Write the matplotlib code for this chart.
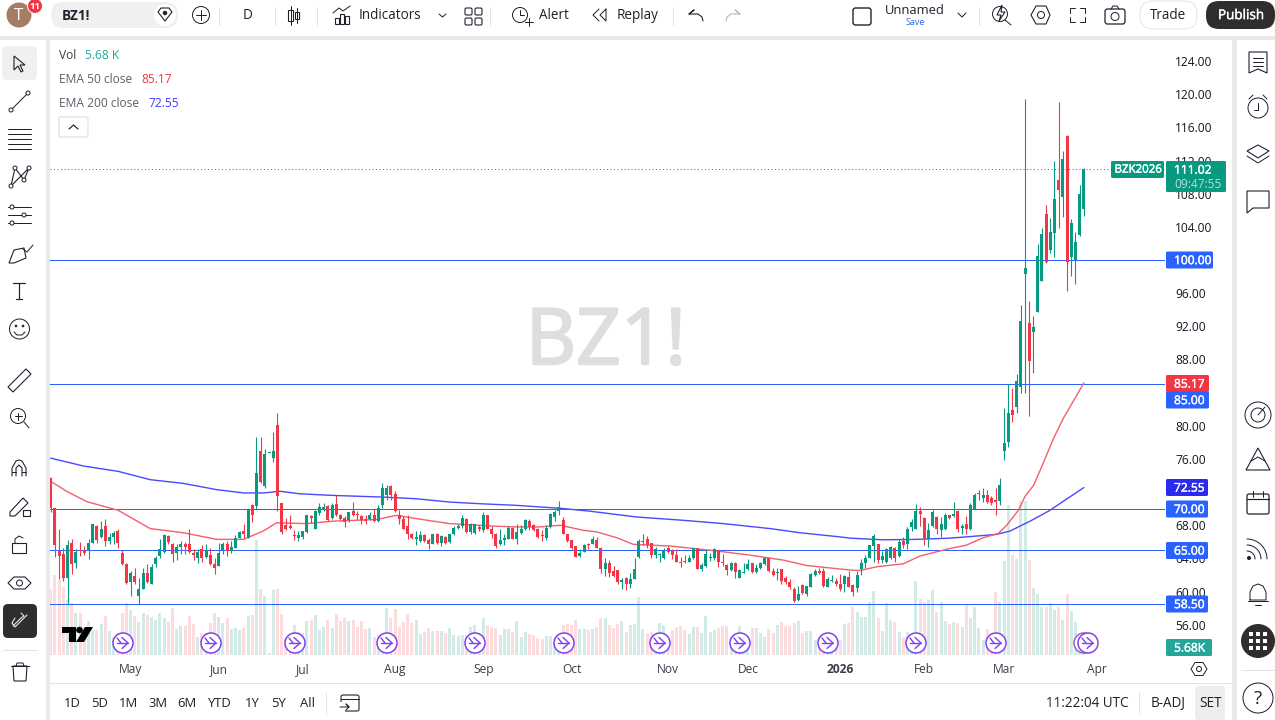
#!/usr/bin/env python3
"""Daily Brent chart (BZ1!) with EMA 50/200, volume and the terminal chrome around it."""

import matplotlib
matplotlib.use("Agg")
import matplotlib.patheffects as pe
import matplotlib.pyplot as plt
import numpy as np
from matplotlib.patches import Circle, FancyBboxPatch, Polygon, Rectangle

plt.rcParams["font.family"] = ["Open Sans", "DejaVu Sans"]

# ---------------------------------------------------------------------------
# Values
# ---------------------------------------------------------------------------
opens = [
    73.7, 70.1, 64.9, 64.5, 61.6, 65.9, 63.5, 65.0, 65.0, 64.9,
    65.9, 67.9, 66.6, 67.9, 66.1, 66.6, 67.3, 64.6, 63.3, 61.1,
    61.9, 59.5, 60.3, 62.2, 60.9, 63.3, 64.3, 64.8, 66.7, 65.8,
    64.6, 65.4, 65.7, 65.7, 64.7, 64.0, 65.1, 64.2, 64.4, 63.3,
    63.1, 65.0, 65.7, 64.9, 65.2, 66.5, 67.3, 66.5, 70.4, 70.3,
    77.0, 72.7, 76.7, 76.1, 80.1, 70.7, 68.0, 67.9, 66.8, 66.5,
    66.6, 67.2, 69.1, 67.6, 69.5, 69.9, 70.3, 68.9, 70.6, 69.2,
    68.9, 68.6, 69.7, 69.3, 69.1, 68.8, 68.7, 69.3, 68.5, 70.4,
    71.7, 72.7, 71.8, 69.2, 68.8, 67.9, 67.0, 66.3, 66.1, 66.8,
    66.2, 65.8, 67.0, 65.9, 66.6, 66.0, 66.9, 67.7, 67.9, 68.8,
    67.2, 67.1, 67.8, 67.4, 69.2, 67.5, 67.0, 65.8, 66.2, 66.4,
    67.7, 66.3, 67.1, 67.5, 68.5, 68.0, 67.6, 66.8, 66.5, 67.8,
    69.0, 69.7, 68.6, 66.9, 66.2, 65.5, 64.3, 64.8, 65.7, 65.8,
    66.2, 65.2, 62.7, 63.5, 62.5, 62.6, 61.2, 61.6, 60.9, 61.5,
    64.2, 66.0, 66.3, 65.9, 64.4, 64.4, 64.1, 65.2, 65.0, 64.4,
    63.6, 63.7, 63.6, 64.0, 65.3, 62.7, 63.1, 64.0, 64.0, 65.0,
    63.6, 63.2, 62.6, 63.5, 61.7, 62.3, 62.7, 63.4, 62.4, 62.8,
    63.3, 64.0, 62.5, 62.2, 62.7, 61.7, 61.2, 60.3, 59.0, 60.8,
    59.7, 60.6, 62.0, 62.5, 62.5, 60.5, 61.3, 61.3, 60.9, 60.9,
    61.8, 60.8, 60.4, 62.7, 63.4, 64.1, 65.5, 65.8, 63.8, 63.6,
    64.0, 65.3, 64.3, 66.1, 65.7, 67.8, 67.5, 69.7, 68.9, 66.3,
    67.9, 69.0, 67.4, 67.5, 69.2, 69.1, 69.7, 67.7, 68.1, 67.5,
    70.0, 71.8, 71.3, 71.6, 71.3, 71.0, 70.9, 77.0, 78.05, 81.9,
    82.3, 84.7, 98.3, 92.4, 91.3, 93.7, 97.5, 105.5, 101.2, 103.3,
    109.7, 107.6, 114.9, 100.4, 100.0, 103.0, 106.1,
]
closes = [
    70.1, 65.6, 64.3, 61.7, 65.6, 63.3, 64.8, 64.85, 64.6, 65.9,
    68.1, 66.2, 67.5, 66.1, 66.6, 67.1, 65.9, 63.3, 61.0, 62.2,
    61.2, 60.3, 62.3, 61.1, 63.0, 64.0, 65.1, 66.8, 66.0, 64.5,
    65.4, 65.7, 65.4, 64.8, 64.4, 64.8, 64.1, 65.0, 63.3, 62.9,
    64.7, 65.7, 64.9, 65.4, 66.5, 67.2, 66.9, 70.0, 69.3, 74.3,
    73.2, 76.6, 76.8, 77.0, 71.5, 67.2, 67.6, 67.7, 66.7, 66.8,
    67.3, 69.2, 68.9, 69.7, 70.2, 70.2, 68.6, 70.4, 69.2, 68.8,
    68.4, 69.6, 69.2, 69.2, 68.6, 68.5, 69.3, 68.5, 70.1, 72.5,
    72.5, 71.7, 69.7, 68.7, 67.6, 66.9, 66.5, 66.6, 66.8, 66.1,
    65.7, 66.9, 65.9, 66.7, 65.9, 66.9, 67.7, 67.9, 68.9, 67.2,
    68.2, 68.1, 67.6, 69.2, 67.6, 67.0, 65.5, 66.2, 66.5, 67.7,
    66.3, 67.2, 67.5, 68.6, 67.8, 67.4, 66.6, 66.7, 67.7, 69.4,
    69.6, 70.2, 67.0, 66.1, 65.3, 64.2, 64.6, 65.6, 65.65, 66.4,
    65.2, 62.7, 63.4, 62.3, 61.9, 61.1, 61.4, 60.9, 61.5, 62.7,
    66.1, 66.05, 65.6, 64.4, 65.1, 64.5, 64.9, 64.8, 64.4, 63.6,
    63.5, 63.6, 64.1, 65.2, 62.7, 63.2, 64.5, 64.2, 65.1, 63.6,
    63.4, 62.6, 63.5, 62.4, 62.6, 62.4, 63.3, 62.4, 62.8, 63.4,
    64.0, 62.5, 62.0, 62.3, 61.3, 61.1, 60.5, 58.9, 59.7, 59.8,
    60.7, 62.1, 62.5, 62.2, 60.7, 61.5, 61.4, 60.9, 60.3, 61.9,
    60.6, 59.9, 62.0, 63.4, 64.0, 65.6, 66.7, 63.8, 64.3, 65.1,
    65.4, 64.0, 66.0, 65.6, 67.6, 68.4, 69.7, 69.4, 66.3, 67.4,
    69.6, 67.5, 68.1, 69.2, 68.9, 69.4, 67.5, 67.9, 67.5, 70.4,
    71.7, 71.85, 71.6, 70.8, 70.7, 70.85, 72.9, 77.9, 81.5, 81.3,
    85.4, 92.7, 99.0, 87.8, 91.9, 100.5, 103.1, 99.8, 103.4, 107.4,
    108.5, 112.2, 99.8, 104.5, 102.2, 108.0, 111.02,
]
highs = [
    73.8, 70.1, 67.5, 65.3, 66.2, 66.3, 65.1, 66.0, 65.5, 66.3,
    68.2, 68.0, 68.5, 68.7, 67.1, 67.3, 67.6, 65.0, 63.5, 62.5,
    62.8, 61.7, 62.9, 63.3, 63.3, 64.3, 66.4, 66.9, 66.8, 65.9,
    65.7, 66.1, 66.0, 67.6, 65.1, 65.1, 65.6, 65.7, 65.3, 64.1,
    65.9, 66.0, 66.1, 66.1, 66.8, 67.3, 68.1, 70.0, 70.6, 78.7,
    78.7, 77.2, 76.85, 79.2, 81.5, 70.7, 68.9, 69.2, 67.4, 67.3,
    67.3, 69.3, 69.3, 69.9, 70.7, 70.7, 70.5, 70.7, 71.6, 69.4,
    69.1, 69.6, 70.8, 69.7, 69.2, 69.2, 69.6, 70.0, 70.5, 73.1,
    72.9, 72.9, 72.1, 69.9, 69.1, 69.2, 67.1, 67.3, 67.3, 67.0,
    66.5, 67.0, 67.1, 66.8, 66.7, 67.0, 67.9, 68.1, 69.2, 68.9,
    68.3, 68.2, 68.0, 69.6, 69.2, 67.9, 67.1, 67.6, 67.0, 67.9,
    67.8, 68.1, 68.0, 68.8, 68.7, 68.1, 67.7, 67.4, 68.0, 69.5,
    69.8, 70.9, 69.0, 66.9, 66.2, 65.5, 65.1, 65.8, 65.9, 66.7,
    66.6, 65.4, 64.0, 63.8, 63.1, 62.6, 61.7, 61.8, 62.2, 64.0,
    66.4, 66.9, 66.7, 65.9, 65.4, 64.7, 65.2, 65.5, 65.1, 65.1,
    64.2, 64.4, 64.4, 65.3, 65.3, 63.4, 65.0, 64.7, 65.2, 65.0,
    64.5, 63.3, 63.6, 63.6, 62.7, 63.5, 63.9, 63.5, 63.3, 63.6,
    64.1, 64.0, 62.9, 62.8, 62.7, 61.9, 61.5, 60.5, 60.7, 60.9,
    60.7, 62.3, 62.7, 62.8, 62.8, 61.8, 62.0, 61.6, 62.1, 62.0,
    62.5, 60.9, 62.5, 63.9, 64.4, 65.6, 66.9, 65.8, 64.9, 65.3,
    65.5, 65.4, 66.3, 66.6, 67.8, 68.8, 70.6, 70.2, 69.0, 68.3,
    69.8, 69.1, 69.0, 69.5, 69.3, 70.8, 69.8, 68.1, 69.1, 70.7,
    71.9, 72.3, 72.5, 72.3, 71.5, 72.5, 73.7, 82.2, 85.1, 84.5,
    86.3, 94.6, 119.4, 95.1, 93.3, 101.9, 103.9, 106.6, 105.1, 111.9,
    119.1, 113.1, 115.1, 105.0, 103.4, 109.1, 111.1,
]
lows = [
    69.6, 64.2, 61.5, 61.3, 58.5, 62.1, 62.9, 64.3, 64.4, 63.9,
    65.9, 65.9, 66.5, 65.5, 65.8, 65.8, 65.3, 63.2, 60.9, 59.5,
    60.9, 58.5, 60.3, 61.0, 60.9, 63.0, 64.1, 64.7, 65.8, 63.6,
    63.8, 64.5, 64.5, 64.7, 63.8, 63.5, 63.6, 64.0, 63.2, 62.1,
    63.1, 64.5, 64.3, 64.7, 65.2, 66.5, 66.5, 66.5, 68.4, 70.0,
    73.1, 72.5, 76.7, 75.6, 69.7, 66.9, 67.4, 67.5, 66.2, 66.1,
    66.4, 67.1, 68.3, 67.5, 69.3, 69.7, 68.5, 68.8, 69.1, 68.6,
    67.8, 68.4, 69.1, 68.6, 68.2, 68.2, 68.6, 68.4, 68.4, 70.1,
    71.0, 71.1, 69.6, 68.2, 67.5, 66.3, 66.3, 65.6, 66.0, 66.0,
    65.1, 65.7, 65.8, 65.5, 65.8, 65.9, 66.8, 67.5, 67.7, 67.1,
    67.0, 67.0, 67.3, 67.2, 67.5, 66.5, 65.2, 65.6, 65.6, 66.4,
    66.3, 65.8, 67.0, 67.4, 67.4, 67.3, 66.5, 66.1, 66.2, 67.7,
    68.5, 69.2, 66.9, 66.0, 65.1, 64.2, 64.2, 64.8, 65.1, 65.7,
    65.2, 62.2, 61.9, 61.8, 61.8, 60.9, 60.3, 60.2, 60.4, 61.5,
    64.1, 65.6, 65.3, 64.1, 64.0, 63.6, 63.9, 64.6, 63.9, 63.6,
    63.0, 63.4, 63.6, 63.9, 62.7, 62.5, 63.0, 63.7, 63.8, 63.0,
    63.1, 62.0, 62.5, 61.7, 61.6, 62.2, 62.6, 62.3, 62.3, 62.7,
    63.2, 62.4, 61.9, 61.4, 60.9, 60.9, 60.3, 58.8, 58.9, 59.7,
    59.5, 60.5, 61.9, 62.1, 60.6, 60.5, 61.1, 60.7, 60.1, 59.9,
    60.6, 59.5, 59.9, 62.0, 62.9, 64.1, 63.6, 63.4, 63.5, 63.4,
    63.9, 63.6, 64.2, 65.3, 65.1, 67.3, 67.5, 67.9, 65.6, 65.4,
    67.8, 67.0, 66.6, 67.4, 68.7, 69.0, 67.2, 67.0, 66.9, 67.4,
    70.0, 71.1, 70.8, 70.7, 70.5, 69.2, 70.5, 75.9, 77.4, 80.4,
    81.6, 83.9, 83.9, 81.2, 86.4, 93.7, 97.5, 99.6, 100.8, 100.4,
    103.8, 105.2, 96.3, 98.1, 97.1, 102.9, 105.3,
]
volumes_k = [
    46.9, 56.9, 53.3, 48.6, 39.0, 36.7, 29.6, 29.6, 20.1, 24.2,
    17.8, 17.8, 22.0, 27.7, 17.1, 13.0, 15.4, 29.6, 36.7, 32.0,
    27.7, 23.7, 29.6, 28.4, 27.3, 24.9, 29.6, 26.1, 23.7, 33.2,
    18.2, 20.6, 20.6, 27.7, 22.0, 13.0, 15.4, 15.4, 23.0, 29.6,
    26.8, 22.5, 26.1, 18.2, 19.0, 17.8, 19.0, 27.7, 28.4, 81.8,
    46.9, 42.2, 1.2, 46.2, 46.9, 29.2, 11.9, 14.2, 21.3, 16.6,
    15.4, 24.2, 24.9, 28.4, 17.8, 20.1, 24.9, 19.0, 29.2, 24.2,
    26.1, 24.4, 24.9, 20.1, 24.2, 18.2, 19.0, 12.6, 14.2, 14.2,
    33.7, 26.1, 32.7, 20.1, 23.7, 29.2, 22.5, 24.9, 14.9, 16.6,
    19.0, 17.1, 17.1, 17.1, 15.9, 19.0, 14.2, 13.5, 14.2, 14.2,
    19.7, 21.3, 15.4, 26.3, 21.3, 20.1, 19.0, 14.2, 18.5, 18.5,
    16.1, 24.2, 13.0, 16.1, 14.9, 14.2, 12.3, 11.4, 13.5, 13.5,
    9.5, 7.1, 21.3, 22.0, 21.3, 24.9, 18.5, 18.5, 17.8, 18.5,
    20.1, 26.3, 26.3, 21.3, 19.4, 21.8, 24.2, 16.1, 21.3, 22.0,
    41.2, 18.5, 15.4, 16.1, 10.7, 22.5, 21.3, 10.7, 17.8, 19.9,
    20.9, 17.8, 14.9, 19.9, 19.9, 15.4, 27.7, 16.4, 17.8, 19.0,
    20.6, 20.6, 13.0, 10.7, 20.6, 10.7, 13.0, 19.4, 19.4, 15.6,
    13.0, 18.5, 15.4, 21.3, 23.5, 20.6, 20.6, 22.5, 24.2, 15.4,
    16.8, 17.1, 10.7, 10.7, 10.7, 8.3, 8.3, 10.7, 10.7, 22.0,
    22.5, 34.1, 30.8, 27.0, 27.0, 37.9, 45.7, 26.5, 17.3, 36.7,
    24.9, 23.5, 16.6, 13.0, 16.6, 10.7, 52.6, 39.8, 37.9, 39.1,
    46.2, 30.6, 37.9, 24.4, 22.0, 23.5, 22.7, 20.1, 36.0, 26.5,
    34.4, 19.4, 10.7, 18.7, 15.4, 45.0, 37.9, 66.8, 106.7, 71.1,
    68.3, 109.5, 109.5, 67.5, 47.9, 43.4, 34.4, 34.4, 36.7, 32.0,
    34.4, 24.9, 43.4, 31.3, 23.7, 13.0, 5.68,
]

ema50_bar = [0, 3.8, 8.6, 16.1, 23.7, 31.6, 39.5, 45.9, 50.6, 53.8, 61, 67.3, 77.6, 82.4, 87.1, 95,
             105.4, 111, 116.5, 121.3, 126.8, 130, 134.8, 138.7, 147.5, 152.2, 158.6, 166.5, 174.4,
             180, 190.3, 192.7, 196.7, 203, 207, 214.1, 218, 222, 225.6, 227.6, 230.4, 232, 234,
             235.9, 238.7, 241.1, 243.5, 246]
ema50_val = [73.3, 72.1, 70.85, 69.8, 67.6, 67.1, 66.3, 66.3, 67.3, 68.3, 68.2, 68.5, 68.7, 69.2, 68.8, 68.2,
             67.9, 67.8, 67.8, 68.0, 67.4, 67.2, 66.5, 65.7, 65.5, 65.25, 64.9, 64.4, 63.8,
             63.15, 62.6, 62.55, 63.0, 63.35, 64.3, 65.2, 65.6, 66.5, 67.0, 68.0, 69.8, 71.5, 72.8,
             75.0, 78.4, 80.9, 83.0, 85.17]
ema200_bar = [0, 7.8, 16.1, 23.7, 31.6, 39.5, 45.9, 50.6, 54.6, 59.3, 67.3, 79.2, 87.1, 95,
              102.2, 111, 121.3, 128.4, 139.5, 150.6, 160.2, 171.3, 178.4, 187.9, 190.3, 198.2,
              206.2, 214.1, 218, 225.2, 228.4, 233.2, 237.9, 241.1, 246]
ema200_val = [76.1, 75.15, 74.5, 73.5, 73.05, 72.3, 71.9, 71.9, 72.1, 71.8, 71.6, 71.4, 71.2, 70.8,
              70.6, 70.4, 70.05, 69.7, 69.0, 68.6, 68.2, 67.6, 67.1, 66.6, 66.45, 66.25,
              66.3, 66.45, 66.6, 66.9, 67.3, 68.5, 69.8, 70.9, 72.55]

# 72 and 84 sit fully behind the side boxes in the picture
price_ticks = [56, 60, 64, 68, 76, 80, 88, 92, 96, 100, 104, 108, 112, 116, 120, 124]
month_bars = [19, 40, 60, 82, 103, 124, 147, 166, 188, 208, 227, 249]
month_labels = ["May", "Jun", "Jul", "Aug", "Sep", "Oct", "Nov", "Dec", "2026", "Feb", "Mar", "Apr"]
level_lines = [100, 85, 70, 65, 58.5]
last_price = 111.02

# pixel columns of the session markers along the bottom
session_marks_px = [123, 211, 295, 387, 475, 564, 660, 740, 828, 916, 996, 1088]

# side label boxes: y centre, right edge, fill, text
price_boxes = [
    (260, 1213, "#2962ff", "100.00"),
    (383.5, 1209, "#f23645", "85.17"),
    (400, 1209, "#2962ff", "85.00"),
    (487.5, 1208, "#2a2af0", "72.55"),
    (509, 1208, "#2962ff", "70.00"),
    (550.5, 1208, "#2962ff", "65.00"),
    (604, 1208, "#2962ff", "58.50"),
    (647.5, 1212, "#26a69a", "5.68K"),
]

UP = "#089981"
DOWN = "#f23645"
TEXT = "#131722"
W, H = 1275, 720


def px(size):
    return size * 0.72


fig = plt.figure(figsize=(W / 100, H / 100), dpi=100, facecolor="white")

# chart pane spans x 50-1165, y 40-655 in picture pixels
rect = [50 / W, 1 - 655 / H, (1165 - 50) / W, (655 - 40) / H]
bar_px = 4.2
first_px = 50.7
xlim = ((50 - first_px) / bar_px, (1165 - first_px) / bar_px)

vol_ax = fig.add_axes(rect, zorder=1)
ax = fig.add_axes(rect, zorder=2)
ax.patch.set_alpha(0)

x = np.arange(len(closes))
o, c, h, l = map(np.array, (opens, closes, highs, lows))
up = c >= o
colors = np.where(up, UP, DOWN)

vol_ax.bar(x, volumes_k, width=0.72, color=np.where(up, "#d2ebe7", "#fddcde"), linewidth=0)
vol_ax.set_xlim(xlim)
vol_ax.set_ylim(0, 615 * 0.71)
vol_ax.axis("off")

for level in level_lines:
    ax.axhline(level, color="#2962ff", lw=px(1.0), zorder=2)
ax.axhline(last_price, color=UP, lw=px(1), ls=(0, (1, 2.5)), zorder=2)

ax.plot(ema200_bar, ema200_val, color="#4a4aff", lw=px(1.4), zorder=3, solid_capstyle="round")
ax.plot(ema50_bar, ema50_val, color="#f4606c", lw=px(1.4), zorder=3, solid_capstyle="round")

wicks = ax.vlines(x, l, h, colors=colors, lw=px(1.1), zorder=4)
wicks.set_snap(True)
ax.bar(x, np.maximum(np.abs(c - o), 0.12), bottom=np.minimum(o, c), width=0.74, color=colors, linewidth=0, zorder=5)

ax.set_xlim(xlim)
ax.set_ylim(100 - (655 - 260) / 8.29, 100 + (260 - 40) / 8.29)
ax.yaxis.tick_right()
ax.set_yticks(price_ticks, [f"{t:.2f}" for t in price_ticks])
ax.set_xticks(month_bars, month_labels)
ax.tick_params(axis="y", length=0, pad=7.2, labelsize=px(12), labelcolor=TEXT)
ax.tick_params(axis="x", length=0, pad=5.8, labelsize=px(12), labelcolor="#3a3e4a")
ax.get_xticklabels()[month_labels.index("2026")].set_fontweight("bold")
for side in ax.spines.values():
    side.set_visible(False)

# ---------------------------------------------------------------------------
# Chrome, drawn in picture pixels on a full-figure overlay
# ---------------------------------------------------------------------------
ui = fig.add_axes([0, 0, 1, 1], zorder=5)
ui.set_xlim(0, W)
ui.set_ylim(H, 0)
ui.axis("off")
ui.patch.set_alpha(0)
INK = "#1e222d"


def box(x0, y0, x1, y1, fill, edge="none", lw=0, radius=0, z=1):
    if radius:
        patch = FancyBboxPatch((x0 + radius, y0 + radius), x1 - x0 - 2 * radius, y1 - y0 - 2 * radius,
                               boxstyle=f"round,pad={radius}", fc=fill, ec=edge, lw=lw, zorder=z)
    else:
        patch = Rectangle((x0, y0), x1 - x0, y1 - y0, fc=fill, ec=edge, lw=lw, zorder=z)
    ui.add_patch(patch)


def line(xs, ys, color=INK, lw=1.0, z=6):
    ui.plot(xs, ys, color=color, lw=px(lw), zorder=z, solid_capstyle="round", solid_joinstyle="round")


def ring(cx, cy, r, edge=INK, fill="none", lw=1.0, z=6):
    ui.add_patch(Circle((cx, cy), r, fc=fill, ec=edge, lw=px(lw), zorder=z))


def label(x0, y0, s, size=13, color=TEXT, ha="left", weight="normal", z=7, stroke=0):
    t = ui.text(x0, y0 + 0.6, s, fontsize=px(size), color=color, ha=ha, va="center", fontweight=weight, zorder=z)
    if stroke:
        t.set_path_effects([pe.withStroke(linewidth=stroke, foreground=color)])


# frame gutters
GUTTER = "#e9e9ea"
box(0, 36, W, 40, GUTTER)
box(46, 40, 50, 720, GUTTER)
box(1232, 40, 1237, 720, GUTTER)
box(50, 683, 1232, 684, "#e0e3eb")

# watermark
label(606, 343, "BZ1!", size=78, color="#dedede", ha="center", z=0.5, stroke=1.6)

# legend
label(59, 55, "Vol", 12, "#3a3e4a")
label(85, 55, "5.68 K", 12, "#26a69a")
label(59, 79, "EMA 50 close", 12, "#5d606b")
label(141, 79, "85.17", 12, DOWN)
label(59, 103, "EMA 200 close", 12, "#5d606b")
label(148, 103, "72.55", 12, "#3d3dff")
box(59, 117, 88, 137, "white", "#d6d8de", 0.7, radius=2)
line([69, 73.5, 78], [129, 125, 129], lw=1.2)

# price boxes
box(1111, 161, 1164, 178, UP, radius=1.5, z=3)
label(1138, 169.5, "BZK2026", 11.5, "white", ha="center", stroke=0.3)
box(1166, 161, 1226, 192, UP, radius=1.5, z=3)
label(1174, 169.5, "111.02", 12, "white", stroke=0.3)
label(1174, 184, "09:47:55", 12, "#b5e0d8")
for yc, right, fill, text in price_boxes:
    box(1166, yc - 8.5, right, yc + 8.5, fill, radius=1.5, z=3)
    label(1174, yc, text, 12, "white", stroke=0.3)

# session markers; the last one sits over a second, fainter ring
ring(1084, 643, 10, "#a35ab8", "white", 1.5, z=4)
for mx in session_marks_px:
    ring(mx, 643, 10, "#7e3ff2", "white", 1.5, z=4)
    line([mx - 6, mx + 5], [643, 643], "#7e3ff2", 1.4)
    line([mx - 1, mx + 5, mx - 1], [637.5, 643, 648.5], "#7e3ff2", 1.4)
    line([mx - 6, mx - 2], [638, 643], "#7e3ff2", 1.4)

# logo
ui.add_patch(Polygon([(62, 627), (76, 627), (76, 642), (69, 642), (69, 633), (62, 633)], fc="black", zorder=6))
ring(79.5, 630, 3, "black", "black", 0.5)
ui.add_patch(Polygon([(85, 627), (93, 627), (84, 642), (76, 642)], fc="black", zorder=6))

# top toolbar
ring(19, 15, 12.5, "none", "#a67c64")
label(19, 15, "T", 17, "white", ha="center")
ring(35, 6, 7.5, "white", "#f23645", 1)
label(35, 6, "11", 9.5, "white", ha="center", weight="bold")
box(51, 2, 178, 28, "#f0f0f0", radius=13)
label(62, 15, "BZ1!", 13.5, INK, weight="bold")
ring(165, 15, 11, "none", "white", z=3)
ui.add_patch(Polygon([(158, 12), (161, 8), (169, 8), (172, 12), (165, 21)], fc="none", ec=INK, lw=0.8, zorder=6))
ring(165, 13, 2, INK, INK, 0.5)
ring(201, 15, 8.5, INK)
line([196, 206], [15, 15])
line([201, 201], [10, 20])
label(248, 15, "D", 13.5, INK, ha="center")
for sep in [219, 275, 317, 490, 673, 979]:
    line([sep, sep], [7, 25], "#e0e3eb")
box(288, 10, 293, 21, "none", INK, 0.8, z=6)
line([290.5, 290.5], [6, 25])
box(295, 12, 299, 19, "none", INK, 0.8, z=6)
line([297, 297], [8, 23])
for bx, top in [(335, 18), (340, 14), (345, 16)]:
    box(bx, top, bx + 4, 24, "none", INK, 0.8, z=6)
line([333, 339, 343, 350], [13, 8, 11, 6])
label(359, 15, "Indicators", 13.5, INK)
line([439, 442.5, 446], [14, 17, 14], lw=1)
for gx in [465, 475]:
    for gy in [8, 18]:
        box(gx, gy, gx + 7, gy + 7, "none", INK, 0.8, radius=1.5, z=6)
ring(520, 15, 7.5, INK)
line([520, 520, 524], [10, 15, 15])
line([525, 533], [22, 22])
line([529, 529], [18, 26])
label(539, 15, "Alert", 13.5, INK)
line([599, 593, 599], [9, 15, 21])
line([606, 600, 606, 606], [9, 15, 21, 9])
label(617, 15, "Replay", 13.5, INK)
line([689, 694, 689, 698, 702, 703], [14, 10, 14, 14, 17, 21], lw=1.1)
line([740, 735, 740, 731, 727, 726], [14, 10, 14, 14, 17, 21], "#b2b5be", 1.1)
box(853, 8, 871, 25, "none", INK, 1, radius=2.5, z=6)
label(915, 10, "Unnamed", 13, INK, ha="center")
label(915, 22, "Save", 9, "#2962ff", ha="center")
line([958, 962, 966], [13, 17, 13])
ring(1000, 14, 7.5, INK)
line([1005, 1011], [20, 25])
ui.add_patch(Polygon([(1002, 5), (997, 15), (1001, 15), (999, 21), (1005, 12), (1001, 12)], fc="white", ec=INK, lw=0.8, zorder=7))
ui.add_patch(Polygon([(1031, 15), (1036, 6), (1046, 6), (1050, 15), (1046, 24), (1036, 24)], fc="none", ec=INK, lw=0.8, zorder=6))
ring(1041, 15, 3.5, INK)
for sx, sy in [(1070, 8), (1085, 8), (1070, 22), (1085, 22)]:
    dx = 1 if sx < 1078 else -1
    dy = 1 if sy < 15 else -1
    line([sx + 5 * dx, sx, sx], [sy, sy, sy + 5 * dy])
box(1105, 9, 1125, 24, "none", INK, 0.9, radius=2.5, z=6)
ring(1115, 16.5, 4, INK)
line([1111, 1113, 1117, 1119], [9, 6, 6, 9])
box(1140, 1, 1197, 29, "white", "#e0e3eb", 0.7, radius=13)
label(1168.5, 15, "Trade", 13.5, INK, ha="center")
box(1206, 1, 1275, 29, "#2e2e2e", radius=13)
label(1241, 15, "Publish", 13.5, "white", ha="center", stroke=0.3)

# left toolbar
box(2, 46, 37, 80, "#f0f0f0", radius=5)
ui.add_patch(Polygon([(14, 56), (14, 70), (18, 66), (21, 72), (23, 71), (20, 65), (25, 65)], fc="none", ec=INK, lw=0.8, zorder=6))
line([11, 28], [110, 93])
ring(11, 110, 2, INK, "white")
ring(28, 93, 2, INK, "white")
for ly in [129, 134, 139, 144, 149]:
    line([8, 31], [ly, ly])
ui.add_patch(Polygon([(11, 186), (15, 168), (24, 180), (29, 168)], fc="none", ec=INK, lw=0.8, zorder=6))
for cx_, cy_ in [(11, 186), (15, 168), (24, 180), (29, 168)]:
    ring(cx_, cy_, 2, INK, "white")
for ly, lx in [(207, 12), (215, 24), (223, 12)]:
    line([8, 31], [ly, ly])
    ring(lx, ly, 2, INK, "white")
ui.add_patch(Polygon([(9, 263), (14, 250), (24, 248), (26, 258), (14, 263)], fc="none", ec=INK, lw=0.8, zorder=6))
line([23, 27, 33], [249, 252, 245])
line([13, 25], [283, 283], lw=1.2)
line([19, 19], [283, 299], lw=1.2)
line([16, 22], [299, 299], lw=1.2)
ring(19.5, 329, 10)
ring(16, 326, 0.8, INK, INK)
ring(23, 326, 0.8, INK, INK)
line([14, 17, 22, 25], [332, 335, 335, 332])
ui.add_patch(Polygon([(8, 387), (26, 369), (31, 374), (13, 392)], fc="none", ec=INK, lw=0.8, zorder=6))
ring(18, 416, 7.5)
line([24, 29], [422, 428])
line([14.5, 21.5], [416, 416])
line([18, 18], [412.5, 419.5])
line([12, 12, 16, 19, 22, 26, 26], [476, 468, 461, 460, 461, 468, 476], lw=1.1)
line([16, 16, 19, 22, 22], [476, 468, 465, 468, 476], lw=1.1)
line([12, 16], [472, 472])
line([22, 26], [472, 472])
ui.add_patch(Polygon([(10, 512), (23, 498), (28, 503), (15, 516), (10, 516)], fc="none", ec=INK, lw=0.8, zorder=6))
box(23, 510, 30, 516, "none", INK, 0.8, z=6)
box(12, 543, 26, 553, "none", INK, 0.8, z=6)
line([15, 15, 19, 23], [543, 539, 536, 538])
ui.add_patch(Polygon([(8, 583), (14, 577), (25, 577), (31, 583), (25, 589), (14, 589)], fc="none", ec=INK, lw=0.8, zorder=6))
ring(19.5, 583, 3)
box(3, 604, 37, 638, "#2e2e2e", radius=5)
line([13, 21, 24, 21], [626, 618, 616, 613], "#e8e8e8", 1.1)
line([15, 12, 15, 24, 27], [618, 623, 627, 618, 615], "#e8e8e8", 1.1)
line([3, 37], [650, 650], "#e0e3eb")
ui.add_patch(Polygon([(13, 666), (27, 666), (26, 681), (14, 681)], fc="none", ec=INK, lw=0.8, zorder=6))
line([11, 29], [666, 666])
line([16, 17, 23, 24], [666, 663, 663, 666])

# right toolbar
ui.add_patch(Polygon([(1249, 52), (1267, 52), (1267, 73), (1258, 69), (1249, 73)], fc="none", ec=INK, lw=0.8, zorder=6))
for ly in [58, 62, 66]:
    line([1253, 1263], [ly, ly])
ring(1258, 108, 10)
line([1258, 1258, 1254], [103, 110, 110])
line([1249, 1253], [99, 95])
line([1263, 1267], [95, 99])
ui.add_patch(Polygon([(1247, 151), (1258, 145), (1269, 151), (1258, 158)], fc="none", ec=INK, lw=0.8, zorder=6))
line([1247, 1258, 1269], [156, 163, 156])
ui.add_patch(Polygon([(1247, 191), (1269, 191), (1269, 208), (1253, 208), (1247, 213)], fc="none", ec=INK, lw=0.8, zorder=6))
ring(1258, 415, 13)
ring(1258, 415, 7)
line([1258, 1265], [415, 407])
ui.add_patch(Polygon([(1246, 470), (1258, 448), (1270, 470)], fc="none", ec=INK, lw=0.8, zorder=6))
line([1251, 1258, 1265], [461, 457, 461])
box(1247, 494, 1269, 514, "none", INK, 0.9, radius=2, z=6)
line([1247, 1269], [499, 499], lw=1.2)
line([1253, 1253], [491, 497])
line([1263, 1263], [491, 497])
ring(1249, 558, 1.5, INK, INK)
for r_ in [8, 14, 20]:
    theta = np.linspace(-np.pi / 2, 0, 20)
    line(1247 + r_ * np.cos(theta), 559 + r_ * np.sin(theta))
line([1250, 1250, 1253, 1258, 1263, 1266, 1266, 1250], [600, 592, 586, 584, 586, 592, 600, 600])
line([1248, 1268], [601, 601])
line([1255, 1261], [605, 605])
ring(1258, 641, 17, "none", "#2e2e2e")
for gy in [634, 641, 648]:
    for gx in [1251, 1258, 1265]:
        box(gx - 2, gy - 2, gx + 2, gy + 2, "white", z=7)
line([1241, 1275], [670, 670], "#e0e3eb")
ring(1258, 698, 15)
label(1258, 698, "?", 19, INK, ha="center")

# bottom bar
for tx, s in zip([72, 100, 129, 158, 187, 220, 252, 279, 307],
                 ["1D", "5D", "1M", "3M", "6M", "YTD", "1Y", "5Y", "All"]):
    label(tx, 703, s, 13, INK, ha="center")
line([326, 326], [692, 714], "#e0e3eb")
box(341, 695, 359, 711, "none", INK, 0.8, radius=2, z=6)
line([341, 359], [699, 699])
box(336, 702, 345, 712, "white", z=6.5)
line([340, 349, 346, 349, 346], [707, 707, 704, 707, 710], z=7)
label(1129, 703, "11:22:04 UTC", 13.5, INK, ha="right")
line([1139, 1139], [692, 714], "#e0e3eb")
label(1168, 703, "B-ADJ", 13.5, INK, ha="center")
box(1195, 686, 1225, 720, "#ededed", radius=3)
label(1210, 703, "SET", 13.5, INK, ha="center")
ui.add_patch(Polygon([(1191, 669), (1195, 662.5), (1203, 662.5), (1207, 669), (1203, 675.5), (1195, 675.5)],
                     fc="none", ec=INK, lw=0.7, zorder=6))
ring(1199, 669, 2.5)

fig.savefig("out.png", dpi=100, facecolor="white")
